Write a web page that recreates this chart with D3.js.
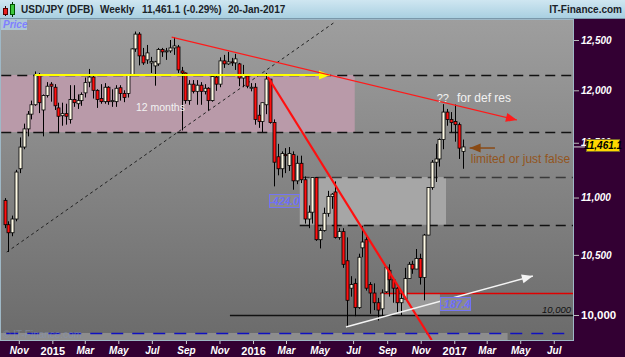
<!DOCTYPE html>
<html>
<head>
<meta charset="utf-8">
<script src="https://cdn.jsdelivr.net/npm/d3@7"></script>
<style>
body { margin: 0; background: #330033; }
svg { display: block; font-family: "Liberation Sans", Arial, sans-serif; }
</style>
</head>
<body>
<div id="chart"></div>
<script>
// weekly USD/JPY candles, first week starts 2014-10-06
var firstWeek = "2014-10-06"

var opens = [10975,10760,10690,10810,11260,11460,11630,11770,11860,12150,11810,11950,12060,
    12030,11830,11755,11775,11720,11910,11870,11900,11975,12080,12130,12000,11920,11890,12030,11890,11890,
    12025,11970,11970,12150,12410,12560,12340,12300,12270,12240,12260,12405,12380,12390,12420,12430,12190,
    12170,11900,12060,11990,12050,11990,12020,11900,12130,12060,12290,12260,12280,12270,12260,12120,12140,12020,
    12030,11760,11700,11860,12110,11690,11370,11260,11390,11290,11390,11150,11310,11160,10810,10870,11180,
    10630,10710,10860,11010,11050,10650,10700,10450,10220,10260,10060,10560,10630,10250,10180,10100,10050,
    10190,10370,10290,10220,10100,10130,10300,10420,10380,10470,10310,10670,11090,11320,11350,11530,11790,
    11720,11700,11670,11420]
var highs = [10995,10790,10840,11250,11550,11680,11800,11900,12185,12170,11960,12080,12080,
    12060,11880,11880,11870,12050,12050,11960,11980,12125,12210,12155,12010,12060,12070,12040,12010,12050,
    12050,12000,12160,12415,12586,12580,12420,12450,12330,12290,12420,12420,12420,12500,12528,12450,12230,
    12175,12100,12100,12100,12080,12060,12030,12140,12150,12325,12350,12380,12320,12360,12270,12250,12160,12070,
    12070,11860,11880,12170,12110,11720,11490,11420,11450,11460,11420,11380,11380,11190,10930,11180,11185,
    10730,10910,11060,11040,11145,10730,10730,10650,10320,10300,10510,10750,10660,10270,10260,10140,10210,
    10400,10420,10290,10230,10200,10390,10440,10450,10550,10510,10680,11090,11340,11490,11540,11866,11820,
    11790,11862,11690,11530]
var lows = [10730,10525,10660,10790,11220,11440,11560,11720,11850,11780,11560,11930,11890,
    11810,11590,11660,11670,11680,11840,11820,11850,11930,12030,11920,11830,11870,11870,11860,11840,11840,
    11900,11885,11930,12140,12380,12245,12250,12260,12170,12045,12240,12330,12300,12370,12350,12170,11615,
    11870,11860,11970,11860,11860,11960,11805,11890,11995,12030,12220,12250,12240,12200,12040,12030,12020,11990,
    11670,11640,11600,11770,11680,11100,11200,11180,11220,11240,11070,11120,11130,10770,10730,10770,10620,
    10555,10700,10830,10900,10640,10630,10390,9900,10150,9990,10050,10480,10200,10010,10040,9955,9990,
    10180,10150,10100,10020,10000,10130,10300,10340,10380,10250,10120,10670,11070,11140,11280,11440,11660,
    11600,11510,11350,11260]
var closes = [10760,10690,10810,11230,11460,11630,11770,11860,12150,11880,11950,12040,12040,
    11850,11750,11775,11750,11910,11880,11900,11960,12075,12130,12000,11910,11890,12030,11890,11900,12020,
    11970,11930,12150,12410,12560,12340,12270,12370,12285,12280,12405,12380,12390,12420,12440,12200,12170,
    11900,12060,11990,12050,11990,12020,11900,12135,12060,12290,12260,12280,12270,12310,12120,12145,12040,12030,
    11720,11700,11880,12110,11690,11320,11260,11400,11380,11400,11150,11310,11160,10810,10870,11180,10630,
    10710,10860,11010,11030,10650,10700,10420,10120,10250,10060,10480,10610,10220,10180,10100,10040,10180,
    10395,10290,10220,10100,10135,10300,10420,10380,10470,10310,10670,11090,11320,11350,11530,11790,11720,
    11690,11670,11450,11461.1]

var priceTicks = [10000, 10500, 11000, 11500, 12000, 12500]
var lastPrice = 11461.1

// drawn objects, in date / price terms
var zones = [
    {from: "2014-09-01", to: "2016-07-04", low: 11600, high: 12150, fill: "#b99aa9"},
    {from: "2016-03-26", to: "2016-12-17", low: 10760, high: 11184, fill: "#a6a6a6"},
    {from: "2016-08-19", to: "2016-12-06", low: 9993, high: 10180, fill: "#9a9a9a"},
    {from: "2014-09-01", to: "2017-04-08", low: 9790, high: 9855, fill: "#8d8d8d"}
]
var levels = [
    {from: "2014-09-01", value: 12150, color: "#111", dash: "10,6"},
    {from: "2014-09-01", value: 11600, color: "#111", dash: "10,6"},
    {from: "2016-03-26", value: 11184, color: "#3a3a3a", dash: "10,6"},
    {from: "2016-03-26", value: 10760, color: "#111", dash: "10,6"},
    {from: "2015-11-20", value: 10000, color: "#111", dash: null},
    {from: "2016-08-19", value: 10180, color: "#e00000", dash: null},
    {from: "2014-09-01", value: 9855, color: "#1010c0", dash: "12,9"}
]
var trendLines = [
    {d1: "2014-10-10", v1: 10524, d2: "2016-05-29", v2: 12684, color: "#222", width: 1, dash: "3,3", arrow: false},
    {d1: "2014-11-30", v1: 12150, d2: "2016-05-20", v2: 12150, color: "#ffff00", width: 2, dash: null, arrow: true},
    {d1: "2015-08-06", v1: 12530, d2: "2017-04-25", v2: 11714, color: "#ff1a1a", width: 1.2, dash: null, arrow: true},
    {d1: "2016-01-28", v1: 12130, d2: "2016-11-21", v2: 9799, color: "#ff1010", width: 2.2, dash: null, arrow: false},
    {d1: "2016-06-18", v1: 9903, d2: "2017-05-24", v2: 10321, color: "#f4f4f4", width: 1.5, dash: null, arrow: true},
    {d1: "2017-03-16", v1: 11451, d2: "2017-01-29", v2: 11451, color: "#8a4a14", width: 1.5, dash: null, arrow: true}
]
var notes = [
    {date: "2015-06-02", value: 11800, text: "12 months", color: "#f2f2f2", size: 10.5},
    {date: "2016-11-30", value: 11887, text: "??", color: "#f2f2f2", size: 11},
    {date: "2017-01-06", value: 11887, text: "for def res", color: "#f2f2f2", size: 12},
    {date: "2017-01-31", value: 11313, text: "limited or just false", color: "#93551d", size: 12}
]
var rangeNotes = ["-424.0", "-187.4"]

var W = 625, H = 357
var plot = {left: 0, top: 19, right: 573, bottom: 340}
var parse = d3.timeParse("%Y-%m-%d")

function build() {
    var start = parse(firstWeek)
    var candles = opens.map(function(o, i) {
        return {date: d3.timeWeek.offset(start, i), o: o, h: highs[i], l: lows[i], c: closes[i]}
    })

    var x = d3.scaleTime()
        .domain([start, candles[candles.length - 1].date])
        .range([4.5, 462.5])
    var y = d3.scaleLog().domain([10000, 12500]).range([315, 40])

    var svg = d3.select("#chart").append("svg").attr("width", W).attr("height", H)
    var defs = svg.append("defs")

    var bg = defs.append("linearGradient").attr("id", "bg").attr("x1", 0).attr("x2", 0).attr("y1", 0).attr("y2", 1)
    bg.append("stop").attr("offset", "0%").attr("stop-color", "#9e9e9e")
    bg.append("stop").attr("offset", "100%").attr("stop-color", "#6b6b6b")

    var tb = defs.append("linearGradient").attr("id", "tb").attr("x1", 0).attr("x2", 0).attr("y1", 0).attr("y2", 1)
    tb.append("stop").attr("offset", "0%").attr("stop-color", "#cfe6f1")
    tb.append("stop").attr("offset", "100%").attr("stop-color", "#a9d0e1")

    defs.append("clipPath").attr("id", "plot-clip")
        .append("rect")
        .attr("x", plot.left).attr("y", plot.top)
        .attr("width", plot.right - plot.left).attr("height", plot.bottom - plot.top)

    // frame
    svg.append("rect").attr("width", W).attr("height", H).attr("fill", "#330033")
    svg.append("rect")
        .attr("x", plot.left).attr("y", plot.top)
        .attr("width", plot.right - plot.left).attr("height", plot.bottom - plot.top)
        .attr("fill", "url(#bg)")

    var g = svg.append("g").attr("clip-path", "url(#plot-clip)")

    g.selectAll("rect.zone")
        .data(zones)
        .enter().append("rect")
        .attr("class", "zone")
        .attr("x", function(d) { return x(parse(d.from)) })
        .attr("y", function(d) { return y(d.high) })
        .attr("width", function(d) { return x(parse(d.to)) - x(parse(d.from)) })
        .attr("height", function(d) { return y(d.low) - y(d.high) })
        .attr("fill", function(d) { return d.fill })

    g.selectAll("line.level")
        .data(levels)
        .enter().append("line")
        .attr("class", "level")
        .attr("x1", function(d) { return x(parse(d.from)) })
        .attr("x2", plot.right)
        .attr("y1", function(d) { return Math.round(y(d.value)) + 0.5 })
        .attr("y2", function(d) { return Math.round(y(d.value)) + 0.5 })
        .attr("stroke", function(d) { return d.color })
        .attr("stroke-width", 1.3)
        .attr("stroke-dasharray", function(d) { return d.dash })

    // watermark
    g.append("text")
        .attr("x", 3).attr("y", 338)
        .attr("font-size", 10)
        .attr("fill", "#8494b8")
        .attr("opacity", 0.55)
        .text("\u00a9 IT-Finance.com")

    // dashed support line sits behind the candles
    drawLine(g, trendLines[0])

    var candle = g.append("g").selectAll("g")
        .data(candles)
        .enter().append("g")

    candle.append("line")
        .attr("x1", function(d) { return Math.round(x(d.date)) + 0.5 })
        .attr("x2", function(d) { return Math.round(x(d.date)) + 0.5 })
        .attr("y1", function(d) { return y(d.h) })
        .attr("y2", function(d) { return y(d.l) })
        .attr("stroke", "#000")
        .attr("stroke-width", 1)

    candle.append("rect")
        .attr("x", function(d) { return Math.round(x(d.date)) - 1 })
        .attr("width", 3)
        .attr("y", function(d) { return y(Math.max(d.o, d.c)) })
        .attr("height", function(d) { return Math.max(1, Math.abs(y(d.o) - y(d.c))) })
        .attr("fill", function(d) { return d.c >= d.o ? "#fffbe6" : "#ff1010" })
        .attr("stroke", "#000")
        .attr("stroke-width", 0.8)

    trendLines.slice(1).forEach(function(t) { drawLine(g, t) })

    function drawLine(layer, t) {
        var x1 = x(parse(t.d1)), y1 = y(t.v1), x2 = x(parse(t.d2)), y2 = y(t.v2)
        layer.append("line")
            .attr("x1", x1).attr("y1", y1).attr("x2", x2).attr("y2", y2)
            .attr("stroke", t.color)
            .attr("stroke-width", t.width)
            .attr("stroke-dasharray", t.dash)
        if (t.arrow) {
            var a = Math.atan2(y2 - y1, x2 - x1), len = 11, half = 4.5
            var bx = x2 - len * Math.cos(a), by = y2 - len * Math.sin(a)
            var pts = [
                [x2, y2],
                [bx + half * Math.sin(a), by - half * Math.cos(a)],
                [bx - half * Math.sin(a), by + half * Math.cos(a)]
            ]
            layer.append("polygon").attr("points", pts.join(" ")).attr("fill", t.color)
        }
    }

    // measured ranges
    var m1 = zones[1], m2 = zones[2]
    rangeLabel(g, x(parse(m1.from)) - 31, y(Math.sqrt(m1.low * m1.high)), rangeNotes[0])
    rangeLabel(g, x(parse(m2.to)), y(Math.sqrt(m2.low * m2.high)), rangeNotes[1])

    function rangeLabel(layer, left, mid, txt) {
        layer.append("rect")
            .attr("x", Math.round(left) + 0.5).attr("y", Math.round(mid) - 6.5)
            .attr("width", 30).attr("height", 13)
            .attr("fill", "#8b8b8b")
            .attr("stroke", "#7474f4")
        layer.append("text")
            .attr("x", left + 15.5).attr("y", mid + 4)
            .attr("text-anchor", "middle")
            .attr("font-size", 10.5).attr("font-weight", "bold").attr("font-style", "italic")
            .attr("fill", "#6e6efa")
            .text(txt)
    }

    g.append("text")
        .attr("x", plot.right - 2).attr("y", y(10000) - 2)
        .attr("text-anchor", "end")
        .attr("font-size", 9.5).attr("font-style", "italic")
        .attr("fill", "#111")
        .text("10,000")

    g.selectAll("text.note")
        .data(notes)
        .enter().append("text")
        .attr("class", "note")
        .attr("x", function(d) { return x(parse(d.date)) })
        .attr("y", function(d) { return y(d.value) })
        .attr("font-size", function(d) { return d.size })
        .attr("fill", function(d) { return d.color })
        .text(function(d) { return d.text })

    // plot border
    svg.append("rect")
        .attr("x", plot.left + 0.5).attr("y", plot.top + 0.5)
        .attr("width", plot.right - plot.left).attr("height", plot.bottom - plot.top)
        .attr("fill", "none").attr("stroke", "#9fb8c6")

    // right price axis
    var yAxis = svg.append("g")
        .attr("transform", "translate(" + (plot.right + 1) + ",0)")
        .call(d3.axisRight(y).tickValues(priceTicks).tickSize(5).tickPadding(2).tickFormat(d3.format(",")))
    yAxis.select(".domain").remove()
    yAxis.selectAll("line").attr("stroke", "#bbb")
    yAxis.selectAll("text")
        .attr("fill", "#fff")
        .attr("font-size", function(d) { return d === 10000 ? 11.5 : 10 })
        .attr("font-weight", "bold")
        .attr("font-style", function(d) { return d === 10000 ? "normal" : "italic" })
        .attr("font-family", "'Liberation Sans', Arial, sans-serif")

    // last price tag sits over the 11,500 label as in the source chart
    var py = y(lastPrice)
    svg.append("line")
        .attr("x1", plot.right + 1).attr("x2", plot.right + 12)
        .attr("y1", py).attr("y2", py)
        .attr("stroke", "#ddd")
    svg.append("rect")
        .attr("x", plot.right + 13.5).attr("y", Math.round(py) - 7.5)
        .attr("width", 33).attr("height", 12)
        .attr("fill", "#ffd700").attr("stroke", "#7a6a2a")
    svg.append("text")
        .attr("x", plot.right + 30).attr("y", py + 2)
        .attr("text-anchor", "middle")
        .attr("font-size", 10).attr("font-weight", "bold").attr("font-style", "italic")
        .attr("fill", "#000")
        .text(d3.format(",.1f")(lastPrice))

    // bottom time axis
    var months = d3.timeMonths(new Date(2014, 10, 1), new Date(2017, 7, 2), 2)
    var xAxis = svg.append("g")
        .attr("transform", "translate(0," + (plot.bottom + 1) + ")")
        .call(d3.axisBottom(x).tickValues(months).tickSize(3).tickPadding(3)
            .tickFormat(function(d) { return d.getMonth() === 0 ? d3.timeFormat("%Y")(d) : d3.timeFormat("%b")(d) }))
    xAxis.select(".domain").remove()
    xAxis.selectAll("line").attr("stroke", "#ccc")
    xAxis.selectAll("text")
        .attr("fill", "#fff")
        .attr("font-size", function(d) { return d.getMonth() === 0 ? 11 : 10 })
        .attr("font-weight", "bold")
        .attr("font-style", function(d) { return d.getMonth() === 0 ? "normal" : "italic" })
        .attr("font-family", "'Liberation Sans', Arial, sans-serif")

    // title bar
    svg.append("rect").attr("width", W).attr("height", 18).attr("fill", "url(#tb)")
    svg.append("line").attr("x1", 0).attr("x2", W).attr("y1", 18.5).attr("y2", 18.5).attr("stroke", "#7a98aa")

    var icon = svg.append("g")
    icon.append("line").attr("x1", 5.5).attr("x2", 5.5).attr("y1", 6).attr("y2", 16).attr("stroke", "#300")
    icon.append("rect").attr("x", 3.5).attr("y", 8.5).attr("width", 4).attr("height", 6).attr("fill", "#e82020").attr("stroke", "#500")
    icon.append("line").attr("x1", 12.5).attr("x2", 12.5).attr("y1", 2).attr("y2", 17).attr("stroke", "#030")
    icon.append("rect").attr("x", 10.5).attr("y", 4.5).attr("width", 4).attr("height", 10).attr("fill", "#3cc83c").attr("stroke", "#050")

    var titles = [
        {x: 21, text: "USD/JPY (DFB)"},
        {x: 100, text: "Weekly"},
        {x: 142, text: "11,461.1 (-0.29%)"},
        {x: 228, text: "20-Jan-2017"}
    ]
    svg.selectAll("text.title")
        .data(titles)
        .enter().append("text")
        .attr("class", "title")
        .attr("x", function(d) { return d.x }).attr("y", 13)
        .attr("font-size", 10).attr("font-weight", "bold")
        .attr("fill", "#1a2228")
        .text(function(d) { return d.text })

    svg.append("text")
        .attr("x", W - 3).attr("y", 13)
        .attr("text-anchor", "end")
        .attr("font-size", 10).attr("font-weight", "bold")
        .attr("fill", "#1a2228")
        .text("IT-Finance.com")

    // "Price" tag
    svg.append("rect").attr("x", 1).attr("y", 19).attr("width", 26).attr("height", 11).attr("fill", "#aec6d4")
    svg.append("text")
        .attr("x", 3).attr("y", 28)
        .attr("font-size", 10).attr("font-weight", "bold").attr("font-style", "italic")
        .attr("fill", "#7f7fff")
        .text("Price")
}

build()
</script>
</body>
</html>
